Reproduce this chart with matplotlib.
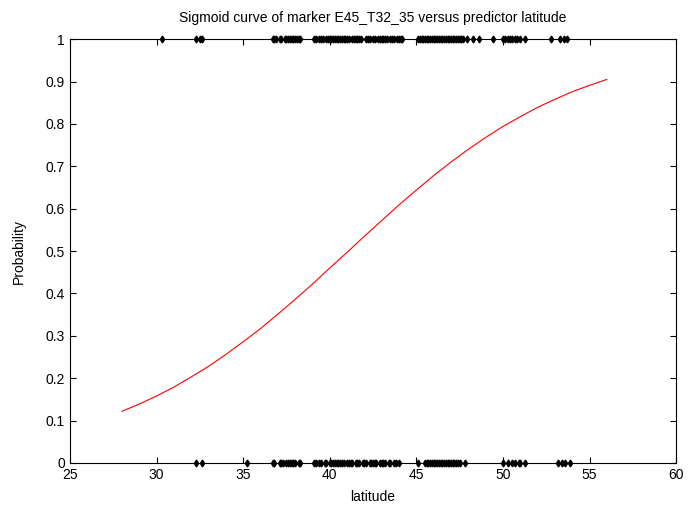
import numpy as np
import matplotlib.pyplot as plt

plt.rcParams['font.family'] = ['Liberation Sans', 'DejaVu Sans']

# fitted sigmoid
curve_x = [28, 29, 30, 31, 32, 33, 34, 35, 36, 37, 38, 39, 40, 41, 42,
           43, 44, 45, 46, 47, 48, 49, 50, 51, 52, 53, 54, 55, 56]
curve_p = [0.122, 0.139, 0.158, 0.179, 0.203, 0.228, 0.256, 0.286, 0.317,
           0.351, 0.386, 0.422, 0.46, 0.497, 0.535, 0.572, 0.609, 0.644,
           0.678, 0.710, 0.740, 0.768, 0.794, 0.817, 0.839, 0.858, 0.876,
           0.891, 0.905]

# observed latitudes with marker present (1)
lat_present = [30.3, 32.3, 32.5, 32.6,
               36.7, 36.8, 36.9, 37.1, 37.2, 37.4, 37.5, 37.6, 37.7, 37.8,
               37.9, 38.0, 38.1, 38.2, 38.3,
               39.1, 39.2, 39.4, 39.5, 39.6, 39.8, 39.9, 40.0, 40.1, 40.2,
               40.3, 40.4, 40.5, 40.6, 40.7, 40.8, 40.9, 41.0, 41.1, 41.3,
               41.4, 41.5, 41.6, 41.7, 41.8, 42.1, 42.2, 42.3, 42.5, 42.6,
               42.8, 42.9, 43.0, 43.1, 43.2, 43.3, 43.5, 43.6, 43.7, 43.9,
               44.0, 44.1, 44.2,
               45.1, 45.2, 45.3, 45.4, 45.5, 45.6, 45.7, 45.8, 45.9, 46.0,
               46.1, 46.2, 46.3, 46.4, 46.5, 46.6, 46.7, 46.8, 46.9, 47.0,
               47.1, 47.2, 47.3, 47.4, 47.5, 47.6, 47.7, 47.9,
               48.3, 48.6, 49.4, 50.0, 50.1, 50.3, 50.4, 50.5, 50.7, 50.8,
               51.0, 51.3, 52.8, 53.3, 53.5, 53.7]

# observed latitudes with marker absent (0)
lat_absent = [32.3, 32.6, 35.2,
              36.7, 36.8, 37.1, 37.2, 37.3, 37.5, 37.6, 37.7, 37.8, 37.9,
              38.0, 38.2, 38.3,
              39.1, 39.2, 39.4, 39.5, 39.7, 39.8, 40.0, 40.1, 40.2, 40.3,
              40.4, 40.5, 40.6, 40.7, 40.8, 41.0, 41.1, 41.2, 41.3, 41.5,
              41.6, 41.7, 41.9, 42.0, 42.1, 42.3, 42.4, 42.5, 42.6, 42.7,
              42.9, 43.0, 43.1, 43.2, 43.4, 43.5, 43.7, 43.8, 44.0,
              45.1, 45.5, 45.6, 45.7, 45.8, 45.9, 46.0, 46.1, 46.2, 46.3,
              46.4, 46.5, 46.6, 46.7, 46.8, 46.9, 47.0, 47.1, 47.2, 47.3,
              47.4, 47.5, 47.8,
              50.0, 50.3, 50.5, 50.7, 50.9, 51.0, 51.3,
              53.2, 53.4, 53.6, 53.9]

fig = plt.figure(figsize=(6.88, 5.15), dpi=100)
ax = fig.add_axes([0.1017, 0.101, 0.881, 0.823])

ax.plot(lat_present, np.ones(len(lat_present)), 'd', color='black',
        markersize=3.5, clip_on=False)
ax.plot(lat_absent, np.zeros(len(lat_absent)), 'd', color='black',
        markersize=3.5, clip_on=False)
ax.plot(curve_x, curve_p, color='red', linewidth=0.8)

ax.set_xlim(25, 60)
ax.set_ylim(0, 1)
ax.set_xticks(np.arange(25, 61, 5))
ax.set_yticks(np.round(np.arange(0, 1.01, 0.1), 1))
ax.set_yticklabels(['0', '0.1', '0.2', '0.3', '0.4', '0.5', '0.6', '0.7',
                    '0.8', '0.9', '1'])
ax.tick_params(direction='in', top=True, right=True, labelsize=10, length=4)
for s in ax.spines.values():
    s.set_linewidth(0.8)

ax.set_title('Sigmoid curve of marker E45_T32_35 versus predictor latitude',
             fontsize=10, pad=12)
ax.set_xlabel('latitude', fontsize=10, labelpad=6)
ax.set_ylabel('Probability', fontsize=10, labelpad=14)

fig.savefig('out.png', dpi=100)
